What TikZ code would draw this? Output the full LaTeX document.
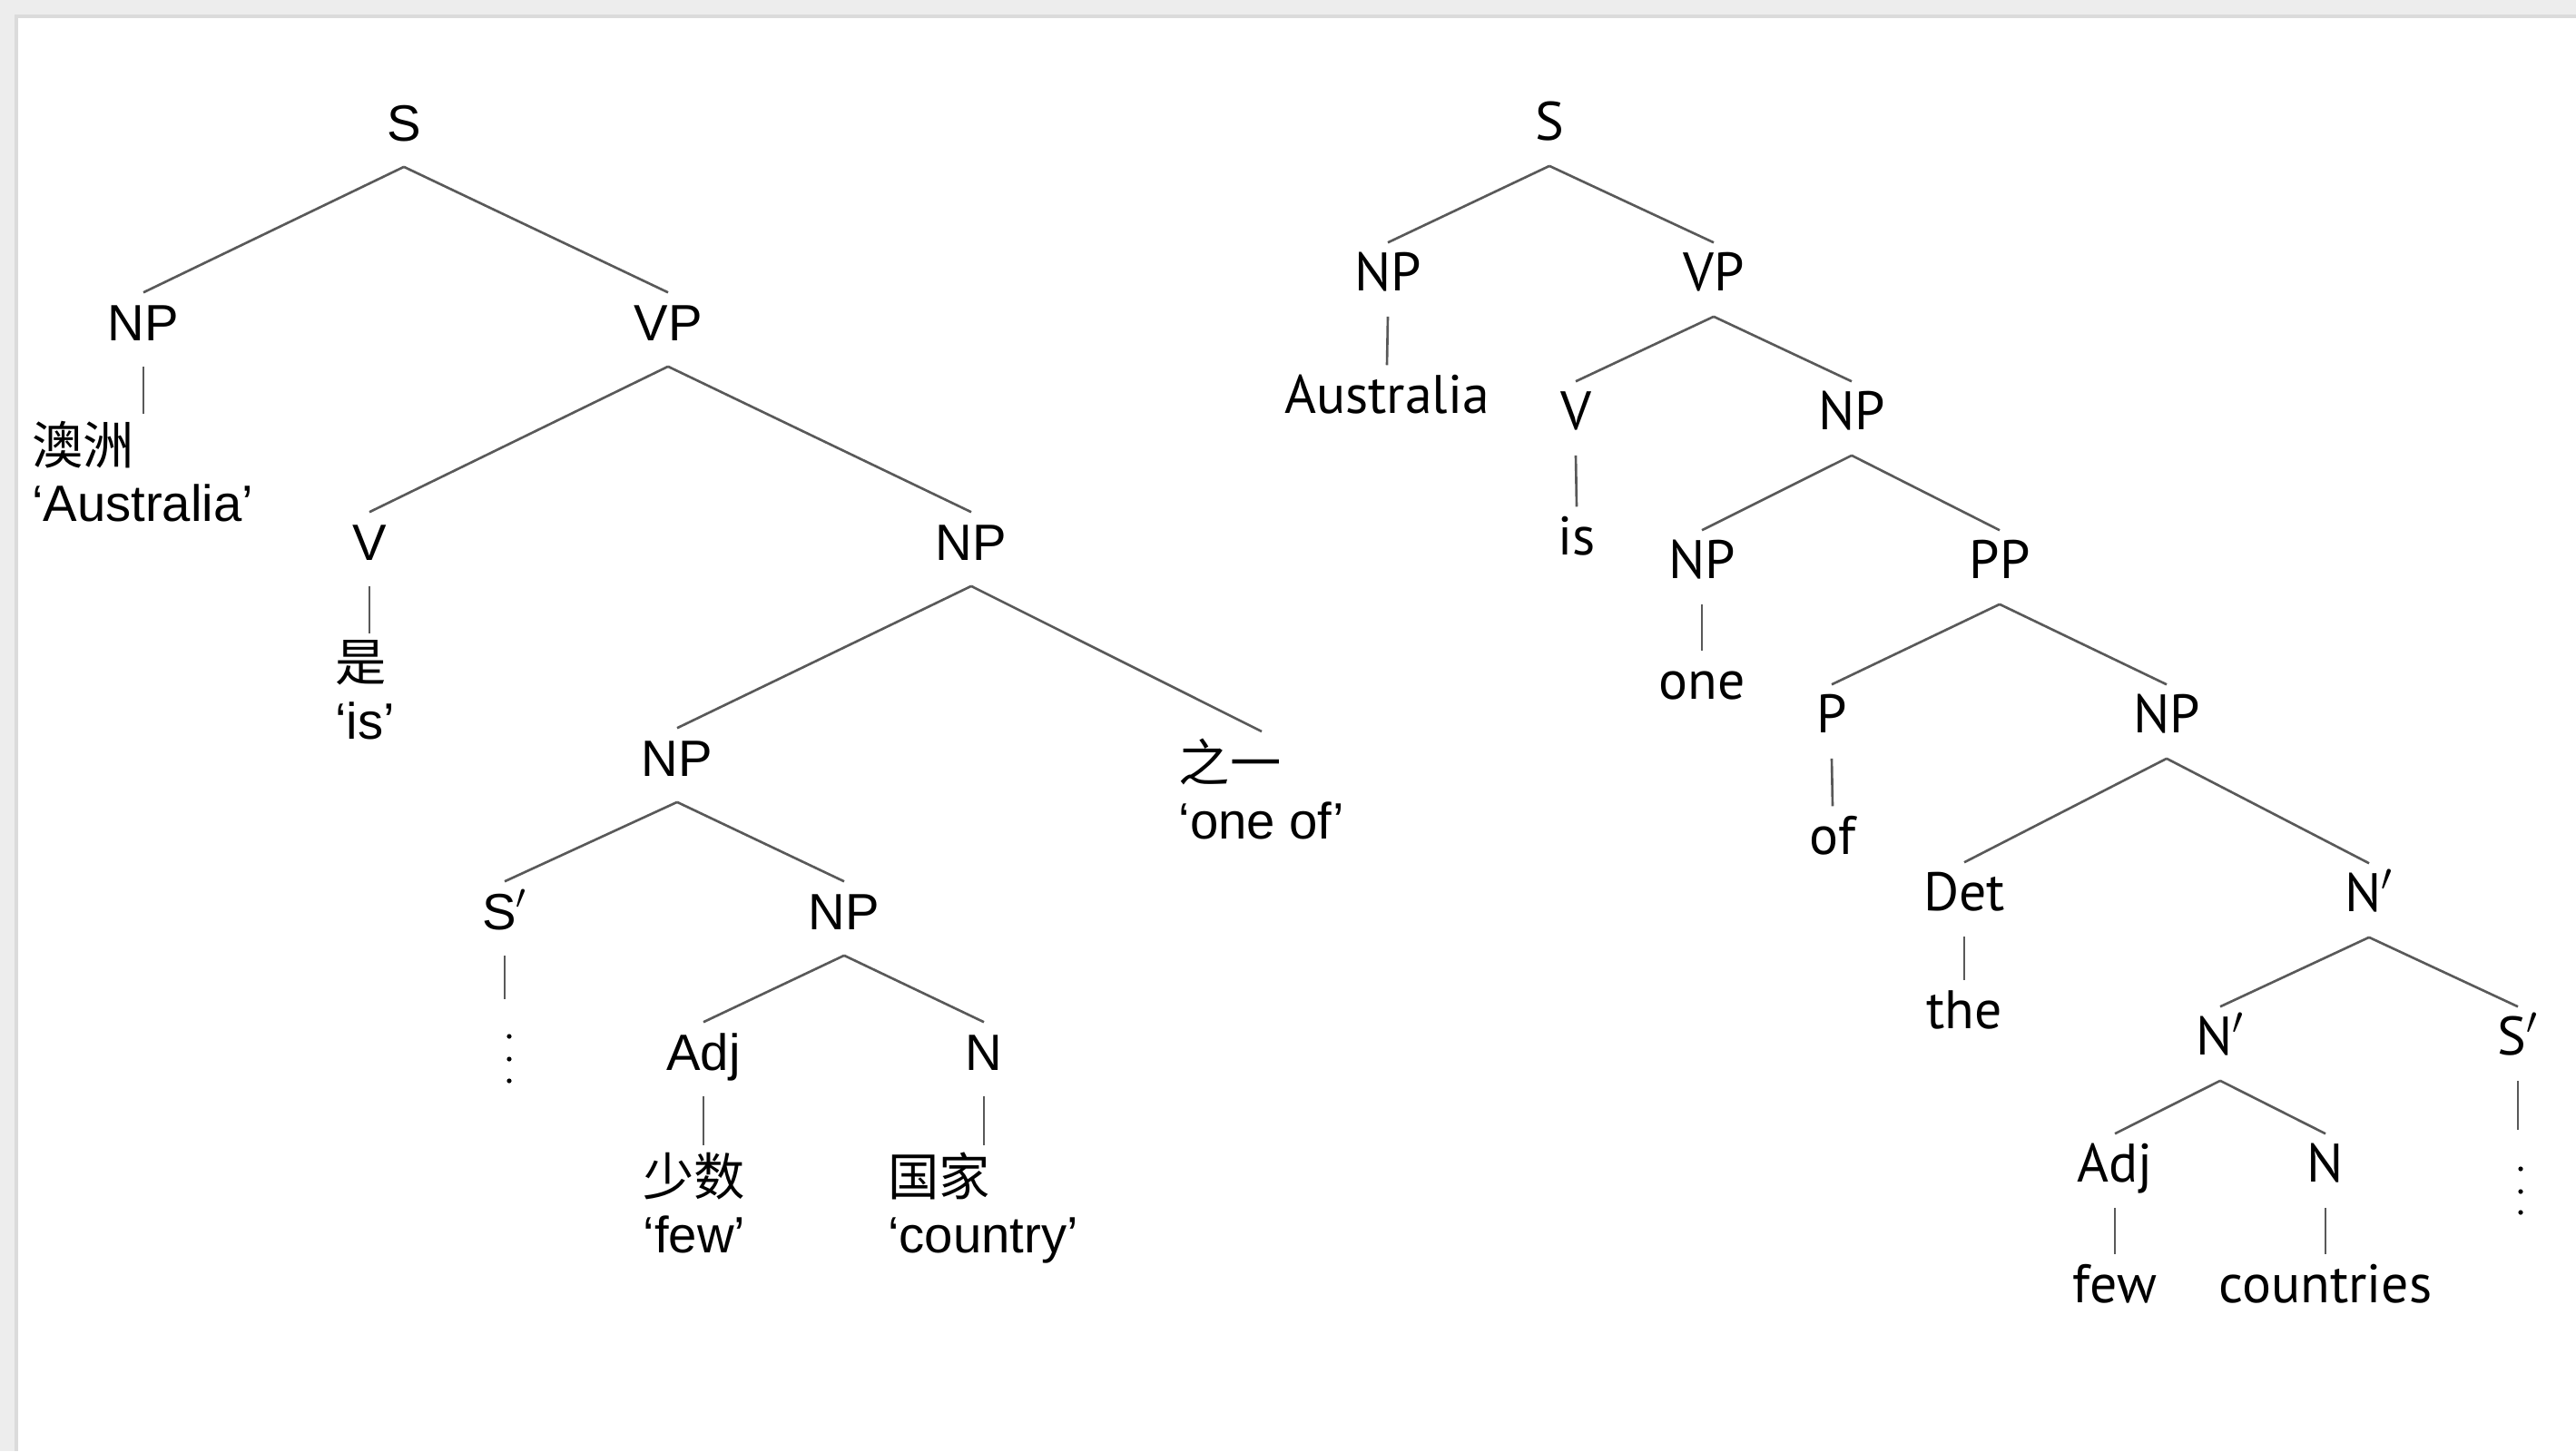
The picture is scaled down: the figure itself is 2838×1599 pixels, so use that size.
\documentclass[tikz,border=0pt]{standalone}
\usepackage{fontspec}
\setmainfont{Liberation Sans}
\newfontfamily\cjk{Noto Sans CJK SC}
\newfontfamily\rsans{PT Sans}

\begin{document}
\begin{tikzpicture}[
  x=0.01cm, y=-0.01cm,
  font=\fontsize{16}{18}\selectfont,
  cat/.style={anchor=base, inner sep=2pt, text height=12.8pt, text depth=6pt},
  rcat/.style={cat, font=\rsans\fontsize{17}{18}\selectfont},
  leaf/.style={anchor=north, align=left, inner sep=2pt},
  branch/.style={draw=black!65, line width=0.75pt},
  dot/.style={fill=black},
]
% ---- page with its grey margin ----
\fill[black!7] (0,0) rectangle (2838,1599);
\fill[black!14] (16,16) rectangle (2838,1599);
\fill[white] (20,20) rectangle (2838,1599);
\useasboundingbox (0,0) rectangle (2838,1599);

% ---- left tree: Chinese sentence ----
\node[cat] (ls)    at (445,155)   {S};
\node[cat] (lnp)   at (158,375)   {NP};
\node[cat] (lvp)   at (736,375)   {VP};
\node[leaf] (laus) at (157,456)   {{\cjk 澳洲}\\‘Australia’};
\node[cat] (lv)    at (407,617)   {V};
\node[cat] (lnp2)  at (1070,617)  {NP};
\node[leaf] (lis)  at (402,698)   {{\cjk 是}\\‘is’};
\node[cat] (lnp3)  at (746,855)   {NP};
\node[leaf] (lof)  at (1390,806)  {{\cjk 之一}\\‘one of’};
\node[cat] (lsbar) at (556,1024)  {S$'$};
\node[cat] (lnp4)  at (930,1024)  {NP};
\coordinate (ldots) at (561,1101);
\node[cat] (ladj)  at (775,1179)  {Adj};
\node[cat] (ln)    at (1084,1179) {N};
\node[leaf] (lfew) at (765,1262)  {{\cjk 少数}\\‘few’};
\node[leaf] (lctry) at (1083,1262) {{\cjk 国家}\\‘country’};

% ---- right tree: English sentence ----
\node[rcat] (rs)     at (1707,154)  {S};
\node[rcat] (rnp)    at (1529,320)  {NP};
\node[rcat] (rvp)    at (1888,320)  {VP};
\node[rcat] (raus)   at (1528,455)  {Australia};
\node[rcat] (rv)     at (1736,473)  {V};
\node[rcat] (rnp2)   at (2040,473)  {NP};
\node[rcat] (ris)    at (1737,611)  {is};
\node[rcat] (rnp3)   at (1875,637)  {NP};
\node[rcat] (rpp)    at (2203,637)  {PP};
\node[rcat] (rone)   at (1875,770)  {one};
\node[rcat] (rp)     at (2018,807)  {P};
\node[rcat] (rnp4)   at (2387,807)  {NP};
\node[rcat] (rof)    at (2019,941)  {of};
\node[rcat] (rdet)   at (2164,1003) {Det};
\node[rcat] (rnbar)  at (2610,1004) {N$'$};
\node[rcat] (rthe)   at (2164,1133) {the};
\node[rcat] (rnbar2) at (2446,1162) {N$'$};
\node[rcat] (rsbar)  at (2774,1162) {S$'$};
\node[rcat] (radj)   at (2330,1302) {Adj};
\node[rcat] (rn)     at (2562,1302) {N};
\node[rcat] (rfew)   at (2330,1435) {few};
\node[rcat] (rctry)  at (2562,1435) {countries};
\coordinate (rdots) at (2777,1245);

% ---- branches, left ----
\draw[branch] (ls.south) -- (lnp.north);
\draw[branch] (ls.south) -- (lvp.north);
\draw[branch] (lnp.south) -- (lnp.south |- laus.north);
\draw[branch] (lvp.south) -- (lv.north);
\draw[branch] (lvp.south) -- (lnp2.north);
\draw[branch] (lv.south) -- (lv.south |- lis.north);
\draw[branch] (lnp2.south) -- (lnp3.north);
\draw[branch] (lnp2.south) -- (lof.north);
\draw[branch] (lnp3.south) -- (lsbar.north);
\draw[branch] (lnp3.south) -- (lnp4.north);
\draw[branch] (lsbar.south) -- (lsbar.south |- ldots);
\draw[branch] (lnp4.south) -- (ladj.north);
\draw[branch] (lnp4.south) -- (ln.north);
\draw[branch] (ladj.south) -- (ladj.south |- lfew.north);
\draw[branch] (ln.south) -- (ln.south |- lctry.north);
% elided clause under S'
\fill[dot] (ldots) ++(0,41) circle (2.6) ++(0,25) circle (2.6) ++(0,24) circle (2.6);

% ---- branches, right ----
\draw[branch] (rs.south) -- (rnp.north);
\draw[branch] (rs.south) -- (rvp.north);
\draw[branch] (rnp.south) -- (raus.north);
\draw[branch] (rvp.south) -- (rv.north);
\draw[branch] (rvp.south) -- (rnp2.north);
\draw[branch] (rv.south) -- (ris.north);
\draw[branch] (rnp2.south) -- (rnp3.north);
\draw[branch] (rnp2.south) -- (rpp.north);
\draw[branch] (rnp3.south) -- (rone.north);
\draw[branch] (rpp.south) -- (rp.north);
\draw[branch] (rpp.south) -- (rnp4.north);
\draw[branch] (rp.south) -- (rof.north);
\draw[branch] (rnp4.south) -- (rdet.north);
\draw[branch] (rnp4.south) -- (rnbar.north);
\draw[branch] (rdet.south) -- (rthe.north);
\draw[branch] (rnbar.south) -- (rnbar2.north);
\draw[branch] (rnbar.south) -- (rsbar.north);
\draw[branch] (rnbar2.south) -- (radj.north);
\draw[branch] (rnbar2.south) -- (rn.north);
\draw[branch] (radj.south) -- (rfew.north);
\draw[branch] (rn.south) -- (rctry.north);
\draw[branch] (rsbar.south) -- (rsbar.south |- rdots);
\fill[dot] (rdots) ++(0,43) circle (2.6) ++(0,25) circle (2.6) ++(0,23) circle (2.6);
\end{tikzpicture}
\end{document}
